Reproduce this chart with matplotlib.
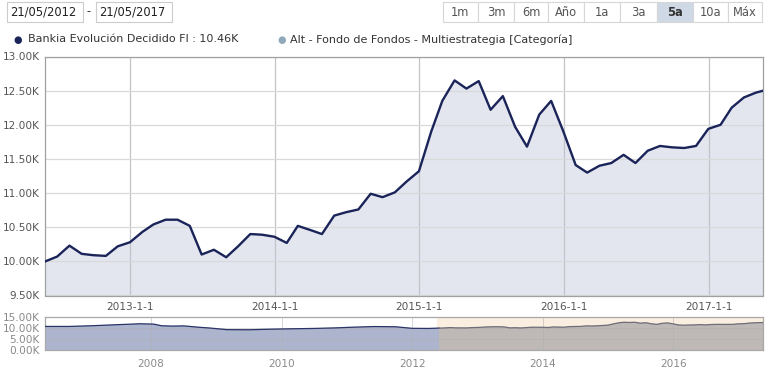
import numpy as np
import pandas as pd
import matplotlib
matplotlib.use("Agg")
import matplotlib.pyplot as plt
import matplotlib.dates as mdates
from matplotlib.patches import Rectangle
from matplotlib.ticker import FuncFormatter

# monthly values (thousands), end of month from 2012-05 to 2017-04, plus 2017-05-19
main_dates = list(pd.date_range("2012-05-31", periods=60, freq="ME")) + [pd.Timestamp("2017-05-19")]
main_vals = [
    10.00, 10.07, 10.23, 10.11, 10.09, 10.08, 10.22, 10.28,
    10.43, 10.54, 10.61, 10.61, 10.52, 10.10, 10.17, 10.06, 10.22, 10.40, 10.39, 10.36,
    10.27, 10.52, 10.46, 10.40, 10.67, 10.72, 10.76, 10.99, 10.94, 11.01, 11.17, 11.32,
    11.90, 12.35, 12.65, 12.53, 12.64, 12.22, 12.42, 11.97, 11.68, 12.15, 12.35, 11.90,
    11.41, 11.30, 11.40, 11.44, 11.56, 11.44, 11.62, 11.69, 11.67, 11.66, 11.69, 11.94,
    12.00, 12.25, 12.40, 12.47, 12.50,
]

# navigator history before the selected window
nav_dates = ["2006-05-19", "2006-09-30", "2007-01-31", "2007-06-30", "2007-10-31",
             "2008-01-15", "2008-02-29", "2008-04-30", "2008-06-30", "2008-09-30",
             "2008-11-30", "2009-02-28", "2009-06-30", "2009-10-31", "2010-01-31",
             "2010-06-30", "2010-10-31", "2011-01-31", "2011-05-31", "2011-09-30",
             "2011-12-31", "2012-03-31"]
nav_vals = [10.75, 10.75, 11.05, 11.55, 11.95, 11.80, 11.05, 10.90, 11.00, 10.35,
            10.00, 9.30, 9.25, 9.50, 9.65, 9.85, 10.10, 10.40, 10.70, 10.60,
            9.90, 9.85]

sel_start = pd.Timestamp("2012-05-21")
y_ticks = [9.5, 10.0, 10.5, 11.0, 11.5, 12.0, 12.5, 13.0]
x_ticks = ["2013-01-01", "2014-01-01", "2015-01-01", "2016-01-01", "2017-01-01"]
x_labels = ["2013-1-1", "2014-1-1", "2015-1-1", "2016-1-1", "2017-1-1"]
nav_yticks = [0, 5, 10, 15]
nav_xticks = ["2008-01-01", "2010-01-01", "2012-01-01", "2014-01-01", "2016-01-01"]
nav_xlabels = ["2008", "2010", "2012", "2014", "2016"]
buttons = ["1m", "3m", "6m", "Año", "1a", "3a", "5a", "10a", "Máx"]

W, H = 781, 376
fig = plt.figure(figsize=(W / 100, H / 100), dpi=100)
plt.rcParams["font.family"] = ["DejaVu Sans"]

def box(x0, y0, x1, y1):
    return [x0 / W, 1 - y1 / H, (x1 - x0) / W, (y1 - y0) / H]

navy = "#1b2459"
grid_c = "#d9d9d9"
vgrid_c = "#c4c4c8"
lab_c = "#555555"

# ---- main chart
ax = fig.add_axes(box(45.3, 56.5, 763.3, 295.5))
ax.fill_between(main_dates, main_vals, 9.5, color="#e3e6ef", zorder=1)
ax.plot(main_dates, main_vals, color=navy, lw=1.7, zorder=3, solid_joinstyle="round")
ax.set_xlim(main_dates[0], main_dates[-1])
ax.set_ylim(9.5, 13.0)
ax.set_yticks(y_ticks)
ax.yaxis.set_major_formatter(FuncFormatter(lambda v, p: "%.2fK" % v))
ax.set_xticks([pd.Timestamp(d) for d in x_ticks])
ax.set_xticklabels(x_labels)
ax.tick_params(axis="both", length=0, labelsize=7.6, colors=lab_c)
ax.tick_params(axis="x", pad=5)
ax.tick_params(axis="y", pad=4)
ax.grid(axis="y", color=grid_c, lw=0.9, zorder=0)
ax.grid(axis="x", color=vgrid_c, lw=0.9, zorder=2)
for s in ax.spines.values():
    s.set_color("#a0a0a0")
    s.set_linewidth(0.9)

# ---- navigator
nav = fig.add_axes(box(45.3, 317, 763.3, 350.3))
nd = [pd.Timestamp(d) for d in nav_dates]
all_d = nd + main_dates
all_v = nav_vals + main_vals
nav.axvspan(sel_start, main_dates[-1], color="#faeee0", zorder=0)
cut = len(nd) + 1
nav.fill_between(all_d[:cut], all_v[:cut], 0, color="#acb4ce", zorder=1)
nav.plot(all_d[:cut], all_v[:cut], color="#2a3466", lw=0.9, zorder=3)
nav.fill_between(all_d[cut - 1:], all_v[cut - 1:], 0, color="#beb8b6", zorder=1)
nav.plot(all_d[cut - 1:], all_v[cut - 1:], color="#6e6e78", lw=0.9, zorder=3)
nav.set_xlim(nd[0], main_dates[-1])
nav.set_ylim(0, 15)
nav.set_yticks(nav_yticks)
nav.yaxis.set_major_formatter(FuncFormatter(lambda v, p: "%.2fK" % v))
nav.set_xticks([pd.Timestamp(d) for d in nav_xticks])
nav.set_xticklabels(nav_xlabels)
nav.tick_params(axis="both", length=0, labelsize=7.6, colors="#8a8a8a")
nav.tick_params(axis="x", pad=6)
nav.tick_params(axis="y", pad=4)
nav.grid(color="#b0b0b0", lw=0.6, alpha=0.6, zorder=2)
for s in nav.spines.values():
    s.set_color("#a8a8a8")
    s.set_linewidth(0.9)

# ---- date inputs
for (x0, x1, t) in [(7, 83, "21/05/2012"), (96, 172, "21/05/2017")]:
    fig.patches.append(Rectangle((x0 / W, 1 - 22 / H), (x1 - x0) / W, 20 / H,
                                 transform=fig.transFigure, fc="white", ec="#cccccc", lw=0.8))
    fig.text((x0 + 3) / W, 1 - 12 / H, t, fontsize=8.3, color="#222222", va="center")
fig.text(89 / W, 1 - 12 / H, "-", fontsize=8.3, color="#333333", va="center", ha="center")

# ---- range buttons
edges = [443, 477.7, 514.3, 548.3, 584.3, 620, 656.7, 693.3, 728.3, 762]
for i, b in enumerate(buttons):
    x0, x1 = edges[i], edges[i + 1]
    fc = "#cfd9e6" if b == "5a" else "white"
    fig.patches.append(Rectangle((x0 / W, 1 - 22 / H), (x1 - x0) / W, 20 / H,
                                 transform=fig.transFigure, fc=fc, ec="#d6d6d6", lw=0.8))
    fig.text((x0 + x1) / 2 / W, 1 - 12 / H, b, fontsize=8.3, ha="center", va="center",
             color="#333333" if b == "5a" else "#555555",
             fontweight="bold" if b == "5a" else "normal")

# ---- legend
fig.text(18 / W, 1 - 39.5 / H, "\u25cf", fontsize=7, color=navy, ha="center", va="center")
fig.text(28 / W, 1 - 39.5 / H, "Bankia Evolución Decidido FI : 10.46K",
         fontsize=8.0, color="#333333", va="center")
fig.text(282 / W, 1 - 39.5 / H, "\u25cf", fontsize=7, color="#8fa9b8", ha="center", va="center")
fig.text(290 / W, 1 - 39.5 / H, "Alt - Fondo de Fondos - Multiestrategia [Categoría]",
         fontsize=8.0, color="#333333", va="center")

fig.savefig("out.png", dpi=100)
